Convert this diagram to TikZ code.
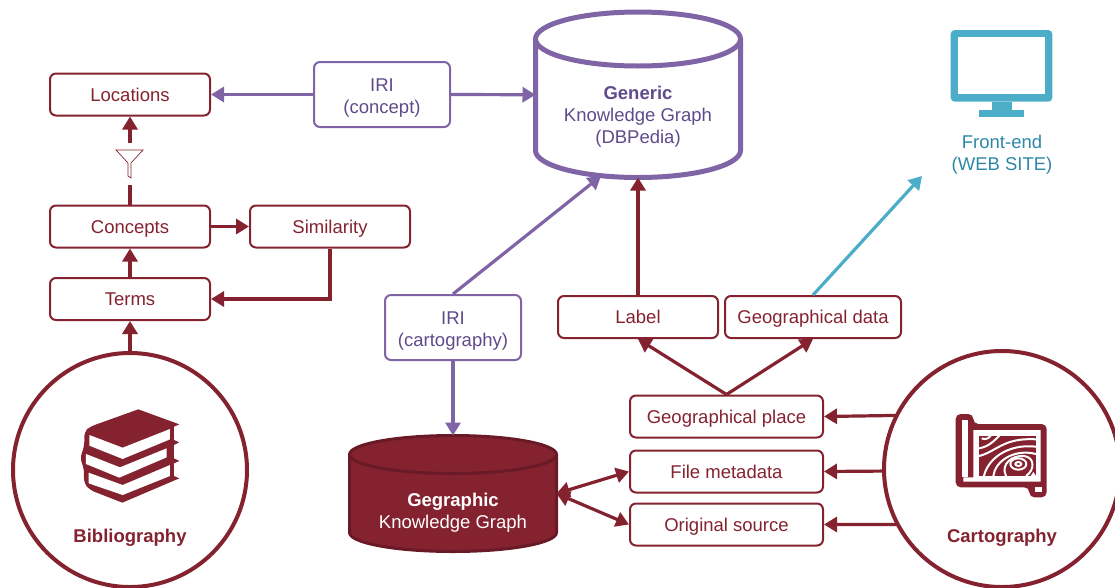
\documentclass[tikz,border=0pt]{standalone}
\usepackage{fontspec}
\setmainfont{Liberation Sans}
\usetikzlibrary{arrows.meta}

\definecolor{wine}{HTML}{84232F}
\definecolor{winedark}{HTML}{691A26}
\definecolor{violet}{HTML}{7F65A6}
\definecolor{violettext}{HTML}{5F4B8B}
\definecolor{sky}{HTML}{4BADC8}
\definecolor{skytext}{HTML}{2E87A5}

\tikzset{
	plainbox/.style = {draw=wine, text=wine, line width=2pt, fill=white, rounded corners=6pt, inner sep=0pt, minimum height=42pt, align=center, font=\fontsize{18.5}{22}\selectfont},
	box/.style = {plainbox, text height=14.5pt, text depth=1pt},
	iribox/.style = {plainbox, draw=violet, text=violettext, minimum height=65pt, minimum width=136pt},
	source/.style = {circle, draw=wine, line width=4pt, fill=white, inner sep=0pt, outer sep=0pt},
	graph/.style = {inner sep=0pt, outer sep=0pt},
	winearrow/.style = {-{Triangle[length=13pt,width=15pt]}, line width=3.2pt, wine},
	bothwinearrow/.style = {{Triangle[length=13pt,width=15pt]}-{Triangle[length=13pt,width=15pt]}, line width=3.2pt, wine},
	violetarrow/.style = {-{Triangle[length=13pt,width=15pt]}, line width=3.2pt, violet},
	skyarrow/.style = {-{Triangle[length=13pt,width=15pt]}, line width=3.2pt, sky},
	caption/.style = {align=center, font=\fontsize{18.5}{22}\selectfont, inner sep=0pt},
	contour/.style = {white, line width=2pt},
}

\begin{document}
\begin{tikzpicture}[x=1pt,y=-1pt]
		\useasboundingbox (0,0) rectangle (1115,587);

		% left column
		\node[box, minimum width=160pt] (locations) at (130,94.5) {Locations};
		\node[box, minimum width=160pt] (concepts) at (130,226.5) {Concepts};
		\node[box, minimum width=160pt] (similarity) at (330,226.5) {Similarity};
		\node[box, minimum width=160pt] (terms) at (130,299) {Terms};
		\node[source, minimum size=234pt] (biblio) at (130,470) {};
		\node[caption, text=wine] (bibliotext) at (130,537.5) {\bfseries Bibliography};

		% iri boxes
		\node[iribox] (iriconcept) at (382,94.5) {\rule{0pt}{19pt}IRI\\(concept)};
		\node[iribox] (iricarto) at (453,327.5) {\rule{0pt}{19pt}IRI\\(cartography)};

		% the two graphs
		\node[graph, minimum width=205pt, minimum height=165.5pt] (generic) at (638,94.75) {};
		\draw[violet, line width=5pt, fill=white] (535.5,39) -- (535.5,150.5) arc (180:0:102.5 and 27) -- (740.5,39);
		\draw[violet, line width=5pt, fill=white] (638,39) ellipse (102.5 and 27);
		\node[caption, text=violettext] (generictext) at (638,117) {\bfseries Generic\\Knowledge Graph\\(DBPedia)};
		\node[graph, minimum width=207pt, minimum height=116pt] (geographic) at (453,493.5) {};
		\draw[winedark, line width=3pt, fill=wine] (349.5,454.5) -- (349.5,532.5) arc (180:0:103.5 and 19) -- (556.5,454.5);
		\draw[winedark, line width=3pt, fill=wine] (453,454.5) ellipse (103.5 and 19);
		\node[caption, text=white] (geographictext) at (453,513) {\bfseries Gegraphic\\Knowledge Graph};

		% right side
		\node[box, minimum width=160pt] (label) at (638,317) {Label};
		\node[box, minimum width=176pt] (geodata) at (813,317) {Geographical data};
		\node[box, minimum width=193pt] (place) at (726.5,416.5) {Geographical place};
		\node[box, minimum width=193pt] (metadata) at (726.5,471.5) {File metadata};
		\node[box, minimum width=193pt] (original) at (726.5,524.5) {Original source};
		\node[source, minimum size=236pt] (carto) at (1002,469) {};
		\node[caption, text=wine] (cartotext) at (1002,537.5) {\bfseries Cartography};
		\node[caption, text=skytext] (frontend) at (1002,155) {Front-end\\(WEB SITE)};

		\coordinate (filtertop) at (130,143);
		\coordinate (filterbottom) at (130,185);
		\coordinate (genericside) at (601,176);
		\coordinate (webend) at (922,176);

		% connectors
		\draw[winearrow] (biblio) -- (terms);
		\draw[winearrow] (terms) -- (concepts);
		\draw[winearrow] (concepts) -- (similarity);
		\draw[winearrow] (similarity.south) |- (terms.east);
		\draw[line width=3.2pt, wine] (concepts.north) -- (filterbottom);
		\draw[winearrow] (filtertop) -- (locations.south);
		\draw[violetarrow] (iriconcept.west) -- (locations.east);
		\draw[violetarrow] (iriconcept.east) -- (generic.west);
		\draw[violetarrow] (iricarto.north) -- (genericside);
		\draw[violetarrow] (iricarto.south) -- (geographic.north);
		\draw[winearrow] (label.north) -- (generic.south);
		\draw[skyarrow] (geodata.north) -- (webend);
		\draw[winearrow] (place.north) -- (label.south);
		\draw[winearrow] (place.north) -- (geodata.south);
		\draw[bothwinearrow] (geographic.east) -- (metadata.west);
		\draw[bothwinearrow] (geographic.east) -- (original.west);
		\draw[winearrow] (carto.153.6) -- (place.east);
		\draw[winearrow] (carto.181.2) -- (metadata.east);
		\draw[winearrow] (carto.208) -- (original.east);

		% filter
		\draw[wine, line width=.7pt, fill=white] (116,150) -- (143,150) -- (131,163) -- (131,178) -- (128,176) -- (128,163) -- cycle;

		% books
		\begin{scope}[shift={(30,380)},x=.3333pt,y=-.3333pt]
			\fill[wine] (325,88) -- (448,133) -- (432,140) -- (432,180) -- (448,187) -- (432,195) -- (432,235) -- (448,243) -- (432,250) -- (432,288) -- (448,295) -- (277,368) [rounded corners=5pt] -- (180,330) -- (162,310) -- (162,265) -- (150,235) -- (163,198) -- (163,155) -- (180,140) [sharp corners] -- cycle;
			\fill[white] (178,165) -- (278,203) -- (420,147) -- (420,178) -- (278,237) -- (178,197) -- cycle;
			\fill[white] (168,222) -- (270,262) -- (410,205) -- (410,232) -- (268,293) -- (168,252) -- cycle;
			\fill[white] (176,278) -- (278,315) -- (420,255) -- (420,288) -- (278,345) -- (176,310) -- cycle;
		\end{scope}

		% map
		\begin{scope}[shift={(900,380)},x=.3333pt,y=-.3333pt]
			\fill[wine, rounded corners=5pt] (167,102) -- (220,102) -- (220,132) -- (440,132) -- (440,352) -- (388,352) -- (388,322) -- (167,322) -- cycle;
			\fill[white] (187,120) -- (205,120) -- (205,292) -- (187,292) -- cycle;
			\fill[white] (220,150) -- (422,150) -- (422,305) -- (190,305) -- (190,292) -- (220,292) -- cycle;
			\fill[white] (405,322) -- (425,322) -- (425,335) -- (405,335) -- cycle;
			\fill[wine] (237,167) rectangle (408,288);
			\begin{scope}
				\clip (237,167) rectangle (408,288);
				\draw[contour] (245,175) .. controls (255,180) and (265,176) .. (272,167);
				\draw[contour] (237,205) .. controls (265,200) and (280,185) .. (298,167);
				\draw[contour] (237,228) .. controls (290,215) and (310,172) .. (408,178);
				\draw[contour] (252,288) .. controls (262,240) and (320,190) .. (408,200);
				\draw[contour] (280,288) .. controls (285,245) and (340,205) .. (408,222);
				\draw[contour] (318,288) .. controls (300,250) and (340,225) .. (372,228) .. controls (405,232) and (405,270) .. (378,288);
				\draw[contour] (355,252) ellipse (24 and 17);
				\draw[contour] (355,252) ellipse (9 and 6);
				\fill[white] (392,288) -- (400,276) -- (408,288) -- cycle;
			\end{scope}
		\end{scope}

		% monitor
		\begin{scope}[shift={(920,10)},x=.3333pt,y=-.3333pt]
			\fill[sky, rounded corners=4pt] (92,60) rectangle (397,275);
			\fill[white] (114,82) rectangle (376,253);
			\fill[sky] (215,275) rectangle (275,300);
			\fill[sky] (177,300) rectangle (313,322);
		\end{scope}
\end{tikzpicture}
\end{document}
